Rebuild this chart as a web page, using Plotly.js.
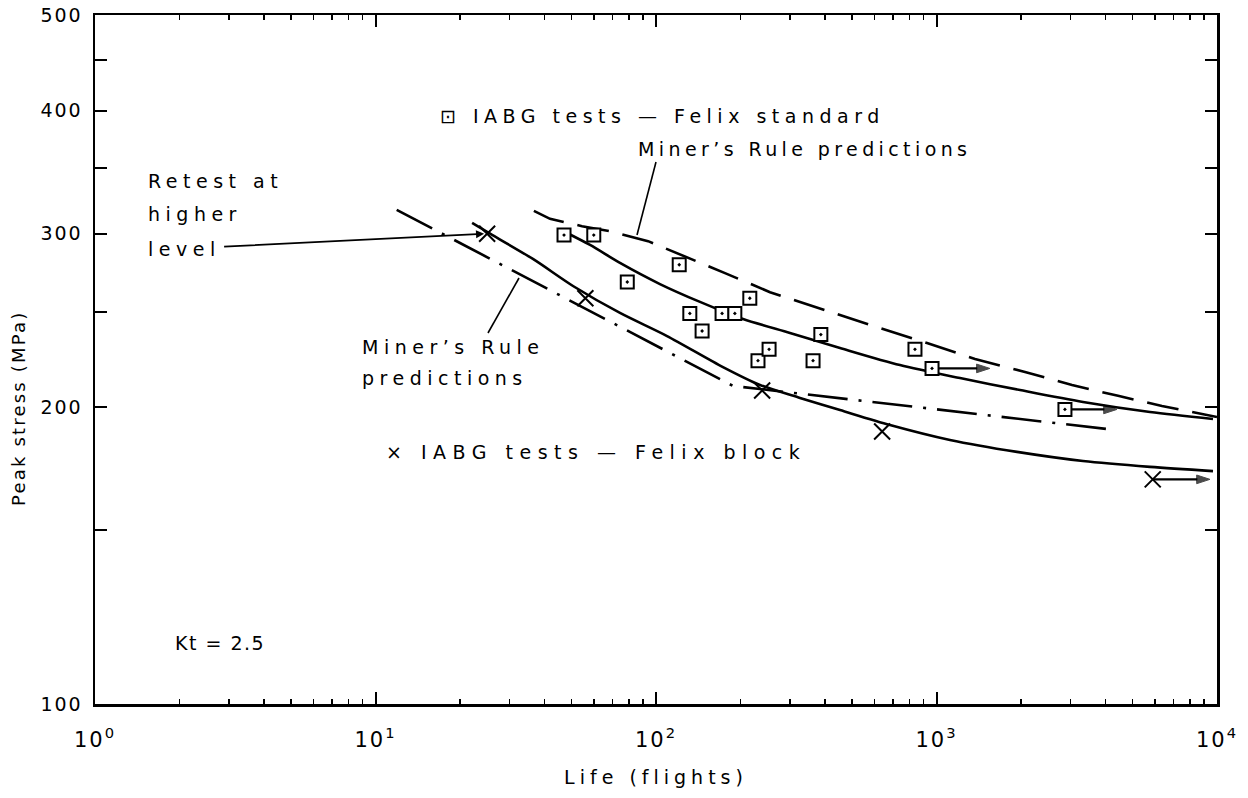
<!DOCTYPE html>
<html><head><meta charset="utf-8">
<script src="https://cdn.plot.ly/plotly-3.0.1.min.js"></script>
<style>
html,body{margin:0;padding:0;background:#fff;}
.xtick text,.ytick text{letter-spacing:2px;}
.xtitle{letter-spacing:5px;}
</style>
</head><body>
<div id="chart" style="width:1248px;height:798px;"></div>
<script>
// IABG tests — Felix standard (open squares)
const stdLife   = [47, 60, 79, 121, 132, 146, 172, 191, 216, 231, 253, 363, 387, 838, 964, 2870];
const stdStress = [299, 299, 268, 279, 249, 239, 249, 249, 258, 223, 229, 223, 237, 229, 219, 199];
// IABG tests — Felix block (crosses)
const blkLife   = [25, 56, 239, 640, 5900];
const blkStress = [300, 258, 208, 189, 169];
// run-outs (unbroken specimens): start life, arrow tip life, stress
const runoutFrom   = [964, 2870, 5900];
const runoutTo     = [1550, 4400, 9440];
const runoutStress = [219, 199, 169];
// solid mean curve, Felix standard
const stdFitLife   = [47.4, 58.2, 74.4, 103.3, 143.5, 204.3, 300.4, 452.9, 741, 1213, 1985, 3329, 5769, 9677];
const stdFitStress = [301.2, 292.2, 280.2, 266.7, 255.8, 245.8, 237.9, 229.7, 220.7, 214.1, 208.2, 202.5, 197.8, 194.6];
// dashed Miner's Rule prediction, Felix standard
const stdMinerLife   = [36.7, 41.9, 54.5, 68.5, 93.7, 121.8, 176.2, 255, 400, 609, 925, 1372, 2068, 3042, 4438, 6366, 10000];
const stdMinerStress = [316.4, 310.6, 305.3, 301.8, 294.8, 286.0, 273.6, 261.7, 250.9, 241.3, 232.4, 223.9, 217.2, 210.7, 205.4, 200.6, 195.5];
// solid mean curve, Felix block
const blkFitLife   = [22.1, 25.0, 36.4, 50.6, 74.4, 109.5, 173.3, 234.8, 326.1, 452.9, 682.6, 1117, 1936, 3329, 5769, 9677];
const blkFitStress = [307.6, 301.2, 282.8, 265.5, 249.3, 236.2, 219.7, 210.7, 204.4, 198.7, 191.9, 185.3, 180.2, 176.4, 174.0, 172.3];
// dash-dot Miner's Rule prediction, Felix block
const blkMinerLife   = [11.9, 188.2, 234.8, 4329];
const blkMinerStress = [317.2, 210.2, 208.7, 189.7];
// axis ticks
const xTickVals = [1, 10, 100, 1000, 10000];
const xTickText = ['10<sup>0</sup>', '10<sup>1</sup>', '10<sup>2</sup>', '10<sup>3</sup>', '10<sup>4</sup>'];
const yTickVals = [100, 200, 300, 400, 500];
const yTickText = ['100', '200', '300', '400', '500'];
const yMinorVals = [150, 250, 350, 450];

const FONT = 'DejaVu Sans, sans-serif';
const minorX = [];
for (const d of [1, 10, 100, 1000]) for (let k = 2; k <= 9; k++) minorX.push(d * k);

// plot area in page pixels (for placing free text)
const L = 95, R = 1217, T = 15, B = 704;
const px = x => (x - L) / (R - L);
const py = y => (B - y) / (B - T);
const lg = Math.log10;
const sp = (t, s) => '<span style="letter-spacing:' + s + 'px">' + t + '</span>';

const traces = [
  {x: stdMinerLife, y: stdMinerStress, mode: 'lines', line: {color: '#000', width: 2.6, dash: '32px,14px'}},
  {x: blkMinerLife, y: blkMinerStress, mode: 'lines', line: {color: '#000', width: 2.6, dash: '40px,11px,3px,11px'}},
  {x: stdFitLife, y: stdFitStress, mode: 'lines', line: {color: '#000', width: 2.6, shape: 'spline', smoothing: 0.8}},
  {x: blkFitLife, y: blkFitStress, mode: 'lines', line: {color: '#000', width: 2.6, shape: 'spline', smoothing: 0.8}}
];
// run-out arrows
for (let i = 0; i < runoutFrom.length; i++) {
  traces.push({
    x: [runoutFrom[i], runoutTo[i]], y: [runoutStress[i], runoutStress[i]], mode: 'lines+markers',
    line: {color: '#000', width: 2.2},
    marker: {symbol: ['circle', 'arrow'], size: [0, 14], angleref: 'previous', color: '#000',
             line: {width: 1, color: '#000'}}
  });
}
traces.push(
  {x: stdLife, y: stdStress, mode: 'markers',
   marker: {symbol: 'square-dot', size: 13, color: '#fff', line: {width: 2, color: '#000'}}},
  {x: blkLife, y: blkStress, mode: 'markers',
   marker: {symbol: 'x-thin-open', size: 16, color: '#000', line: {width: 2, color: '#000'}}}
);

const texts = [
  ['⊡ IABG tests — Felix standard', 438, 116, 5.5],
  ['Miner’s Rule predictions', 636, 149, 4.4],
  ['Retest at', 146, 181, 5.5],
  ['higher', 146, 214, 5.5],
  ['Miner’s Rule', 360, 347, 5.5],
  ['predictions', 360, 378, 5.5],
  ['× IABG tests — Felix block', 384, 452, 6.5],
  ['Kt = 2.5', 173, 643, 1.5]
];

const annotations = texts.map(([t, x, y, s]) => ({
  text: sp(t, s), xref: 'paper', yref: 'paper', x: px(x), y: py(y),
  xanchor: 'left', yanchor: 'middle', showarrow: false,
  font: {family: FONT, size: 19, color: '#000'}
}));

// "level" with its leader arrow to the retested block specimen
annotations.push({
  text: sp('level', 5.5), font: {family: FONT, size: 19, color: '#000'},
  x: lg(blkLife[0]), y: lg(blkStress[0]), xref: 'x', yref: 'y',
  ax: 183 - 486, ay: 248 - 233, axref: 'pixel', ayref: 'pixel', showarrow: true,
  arrowhead: 2, arrowsize: 0.9, arrowwidth: 1.8, arrowcolor: '#000', standoff: 3, startstandoff: 2
});
// y axis title
annotations.push({
  text: sp('Peak stress (MPa)', 2.2), xref: 'paper', yref: 'paper', x: px(18), y: py(408),
  xanchor: 'center', yanchor: 'middle', textangle: -90, showarrow: false,
  font: {family: FONT, size: 18, color: '#000'}
});

const shapes = [
  {type: 'line', xref: 'paper', yref: 'paper', x0: px(488), y0: py(333), x1: px(519), y1: py(278), line: {color: '#000', width: 1.6}},
  {type: 'line', xref: 'paper', yref: 'paper', x0: px(656), y0: py(162), x1: px(637), y1: py(235), line: {color: '#000', width: 1.6}}
];

const axisCommon = {
  showline: true, linewidth: 2.5, linecolor: '#000', mirror: 'ticks',
  showgrid: false, zeroline: false, ticks: 'inside', tickcolor: '#000'
};

const layout = {
  width: 1248, height: 798,
  margin: {l: L, r: 1248 - R, t: T, b: 798 - B},
  paper_bgcolor: '#fff', plot_bgcolor: '#fff', showlegend: false,
  font: {family: FONT, color: '#000'},
  xaxis: Object.assign({}, axisCommon, {
    type: 'log', range: [0, 4], tickmode: 'array', tickvals: xTickVals, ticktext: xTickText,
    ticklen: 12, tickwidth: 2, ticklabelstandoff: 15,
    tickfont: {family: FONT, size: 21, color: '#000'},
    minor: {tickmode: 'array', tickvals: minorX, ticks: 'inside', ticklen: 5, tickwidth: 1.5, tickcolor: '#000'},
    title: {text: 'Life (flights)', font: {family: FONT, size: 19, color: '#000'}, standoff: 20}
  }),
  yaxis: Object.assign({}, axisCommon, {
    type: 'log', range: [2, lg(500)], tickmode: 'array', tickvals: yTickVals, ticktext: yTickText,
    ticklen: 12, tickwidth: 2, ticklabelstandoff: 6,
    tickfont: {family: FONT, size: 19, color: '#000'},
    minor: {tickmode: 'array', tickvals: yMinorVals, ticks: 'inside', ticklen: 12, tickwidth: 2, tickcolor: '#000'}
  }),
  annotations: annotations,
  shapes: shapes
};

Plotly.newPlot('chart', traces, layout, {displayModeBar: false, staticPlot: true});
</script>
</body></html>
